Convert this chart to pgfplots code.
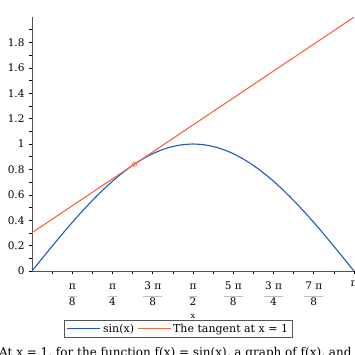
\documentclass[border=0pt]{standalone}
\usepackage{pgfplots}
\pgfplotsset{compat=1.18}
\usepackage{fontspec}
\setmainfont{DejaVu Serif}
\definecolor{sinblue}{RGB}{30,88,196}
\definecolor{tanorange}{RGB}{240,104,62}
\definecolor{axgray}{RGB}{85,85,85}
\newsavebox\numbox
\newcommand{\fr}[2]{\sbox\numbox{#1}\begin{tabular}{@{}c@{}}\usebox\numbox\\[-5pt]{\color{gray!50}\rule{\dimexpr\wd\numbox+2pt\relax}{1pt}}\\[-3pt]#2\end{tabular}}
\pgfplotsset{legend image code/.code={\draw[#1] (0bp,0bp) -- (33bp,0bp);}}
\begin{document}
\begin{tikzpicture}
\begin{axis}[
  at={(32bp,84bp)}, anchor=south west,
  scale only axis, width=322bp, height=254bp,
  xmin=0, xmax=3.14159265, ymin=0, ymax=2,
  axis lines*=left,
  axis line style={axgray, line width=0.9pt},
  every tick/.style={black, line width=0.6pt},
  tick align=outside,
  major tick length=3bp, minor tick length=2.5bp,
  font=\fontsize{10.5bp}{12bp}\selectfont,
  /pgf/number format/assume math mode=true,
  ytick={0,0.2,0.4,0.6,0.8,1,1.2,1.4,1.6,1.8},
  minor ytick={0.1,0.3,0.5,0.7,0.9,1.1,1.3,1.5,1.7,1.9},
  yticklabel style={xshift=-1bp},
  xtick={0.392699,0.785398,1.178097,1.570796,1.963495,2.356194,2.748894,3.141593},
  xticklabels={{\fr{π}{8}},{\fr{π}{4}},{\fr{3 π}{8}},{\fr{π}{2}},{\fr{5 π}{8}},{\fr{3 π}{4}},{\fr{7 π}{8}},{π}},
  minor xtick={0.19635,0.58905,0.98175,1.37445,1.76715,2.15984,2.55254,2.94524},
  xticklabel style={yshift=-4bp},
  xlabel={x},
  xlabel style={at={(axis description cs:0.5,-0.177)}, anchor=center, font=\fontsize{8bp}{9bp}\selectfont},
  legend style={at={(0.455,-0.228)}, anchor=center, legend columns=-1, draw=axgray, line width=0.6pt,
    font=\fontsize{11bp}{12bp}\selectfont, inner xsep=2.5bp, inner ysep=1.5bp,
    /tikz/every even column/.append style={column sep=1bp}},
  clip=true,
]
\addplot[sinblue, line width=1.1pt] coordinates {
(0,0) (0.07854,0.07846) (0.15708,0.15643) (0.23562,0.23345) (0.31416,0.30902)
(0.39270,0.38268) (0.47124,0.45399) (0.54978,0.52250) (0.62832,0.58779) (0.70686,0.64945)
(0.78540,0.70711) (0.86394,0.76041) (0.94248,0.80902) (1.02102,0.85264) (1.09956,0.89101)
(1.17810,0.92388) (1.25664,0.95106) (1.33518,0.97237) (1.41372,0.98769) (1.49226,0.99692)
(1.57080,1.00000) (1.64934,0.99692) (1.72788,0.98769) (1.80642,0.97237) (1.88496,0.95106)
(1.96350,0.92388) (2.04204,0.89101) (2.12058,0.85264) (2.19911,0.80902) (2.27765,0.76041)
(2.35619,0.70711) (2.43473,0.64945) (2.51327,0.58779) (2.59181,0.52250) (2.67035,0.45399)
(2.74889,0.38268) (2.82743,0.30902) (2.90597,0.23345) (2.98451,0.15643) (3.06305,0.07846)
(3.14159,0)
};
\addlegendentry{sin(x)}
\addplot[tanorange, line width=1.1pt] coordinates {(0,0.30117) (3.14159,1.99857)};
\addlegendentry{The tangent at x = 1}
\addplot[tanorange, only marks, mark=o, mark size=2.2bp, mark options={line width=0.7pt, fill=white}, forget plot] coordinates {(1,0.84147)};
\end{axis}
\node[anchor=base west, inner sep=0pt, font=\fontsize{12bp}{14bp}\selectfont] at (-1bp,-1bp) {At x = 1, for the function f(x) = sin(x), a graph of f(x), and its tangent line at x = 1};
\pgfresetboundingbox
\path[use as bounding box] (0,0) rectangle (355bp,355bp);
\end{tikzpicture}
\end{document}
